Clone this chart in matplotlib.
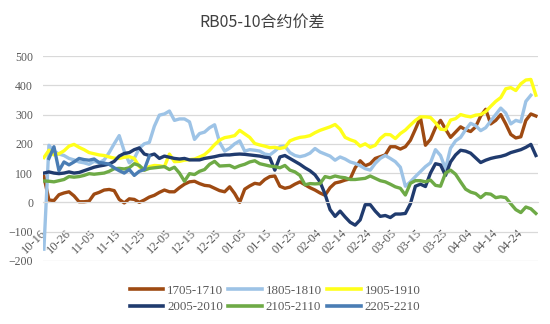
import numpy as np
import matplotlib.pyplot as plt

# category index of every plotted point (one point every two trading days)
idx = np.arange(0, 197, 2)

tick_labels = ['10-16', '10-26', '11-05', '11-15', '11-25', '12-05', '12-15',
               '12-25', '01-05', '01-15', '01-25', '02-04', '02-14', '02-24',
               '03-05', '03-15', '03-25', '04-04', '04-14', '04-24']

s1705 = [88, 8, 6, 26, 32, 36, 22, 2, 2, 4,
         28, 34, 42, 44, 40, 10, -2, 12, 10, 0,
         8, 18, 24, 34, 42, 36, 36, 50, 62, 70,
         72, 64, 58, 56, 48, 40, 36, 53, 30, 0,
         45, 56, 65, 62, 78, 88, 90, 55, 48, 52,
         62, 70, 60, 50, 42, 32, 24, 50, 66, 70,
         76, 80, 118, 142, 125, 132, 150, 156, 162, 190,
         190, 182, 190, 212, 250, 290, 195, 215, 255, 280,
         250, 222, 240, 258, 248, 242, 258, 295, 318, 268,
         280, 300, 268, 232, 220, 224, 280, 302, 295]

s1805 = [-160, 195, 175, 165, 160, 150, 145, 138, 135, 130,
         140, 135, 145, 170, 200, 228, 175, 135, 150, 185,
         200, 205, 260, 298, 302, 312, 280, 285, 285, 275,
         215, 235, 240, 255, 265, 205, 175, 185, 200, 210,
         175, 180, 178, 175, 165, 162, 175, 190, 192, 170,
         160, 156, 160, 168, 184, 172, 165, 158, 144, 155,
         148, 138, 133, 125, 115, 110, 133, 150, 160, 150,
         139, 120, 55, 70, 88, 105, 122, 135, 180, 160,
         115, 185, 210, 222, 248, 270, 262, 245, 255, 278,
         300, 322, 305, 268, 280, 275, 345, 366]

s1905 = [153, 178, 162, 166, 176, 192, 198, 188, 180, 170,
         166, 162, 160, 155, 151, 150, 154, 156, 150, 122,
         110, 122, 126, 125, 122, 165, 139, 140, 144, 146,
         148, 155, 163, 178, 197, 213, 221, 224, 228, 246,
         234, 222, 201, 196, 192, 187, 188, 184, 188, 210,
         217, 222, 224, 228, 238, 246, 252, 258, 266, 250,
         222, 214, 208, 192, 200, 188, 195, 218, 232, 231,
         218, 235, 247, 264, 280, 292, 292, 290, 272, 250,
         248, 281, 286, 300, 295, 292, 298, 300, 310, 328,
         345, 358, 388, 392, 382, 405, 418, 420, 366]

s2005 = [100, 104, 100, 98, 100, 104, 100, 102, 108, 114,
         120, 124, 127, 131, 140, 158, 167, 170, 180, 186,
         165, 160, 165, 150, 158, 154, 150, 148, 150, 145,
         145, 145, 150, 153, 156, 160, 162, 162, 164, 165,
         164, 162, 160, 158, 154, 152, 110, 155, 160, 150,
         140, 130, 118, 108, 94, 70, 28, -25, -48, -30,
         -50, -68, -78, -60, -8, -8, -30, -48, -45, -52,
         -40, -40, -38, -5, 55, 62, 54, 100, 132, 128,
         92, 138, 162, 178, 175, 168, 152, 136, 144, 150,
         154, 157, 162, 170, 175, 180, 188, 198, 160]

s2105 = [73, 72, 70, 74, 78, 88, 86, 88, 92, 98,
         96, 98, 100, 106, 115, 116, 114, 118, 132, 126,
         110, 116, 118, 120, 122, 112, 120, 100, 72, 98,
         95, 106, 112, 130, 140, 124, 125, 126, 118, 125,
         130, 138, 142, 132, 128, 124, 122, 118, 126, 110,
         104, 92, 60, 64, 63, 64, 88, 84, 90, 86,
         84, 78, 78, 80, 82, 90, 82, 74, 70, 62,
         53, 48, 25, 65, 74, 74, 70, 76, 58, 55,
         100, 110, 96, 70, 45, 35, 30, 16, 30, 28,
         16, 19, 16, -5, -25, -35, -16, -22, -38]

s2205 = [np.nan, 150, 190, 108, 138, 128, 138, 150, 146, 144,
         148, 136, 134, 130, 118, 108, 100, 112, 92, 106,
         112, 158]

names = ['1705-1710', '1805-1810', '1905-1910', '2005-2010', '2105-2110', '2205-2210']
colors = ['#9E4A12', '#9DC3E6', '#FFFF1A', '#203B6E', '#6EAA46', '#4A7DB4']
series = [s1705, s1805, s1905, s2005, s2105, s2205]

plt.rcParams['font.family'] = ['Liberation Serif', 'DejaVu Serif']
grey = '#595959'

fig = plt.figure(figsize=(5.5, 3.24), dpi=100)
ax = fig.add_axes([0.078, 0.194, 0.9, 0.634])

# category axis crosses at zero, so the date labels sit under the 0 line
for side in ['top', 'right', 'left']:
    ax.spines[side].set_visible(False)
ax.spines['bottom'].set_position(('data', 0))
ax.spines['bottom'].set_color('#D9D9D9')

lines = []
for name, col, vals in zip(names, colors, series):
    ln, = ax.plot(idx[:len(vals)], vals, color=col, lw=2.4, label=name,
                  solid_joinstyle='round')
    lines.append(ln)

ax.set_ylim(-201, 501)
ax.set_xlim(-0.4, 196.8)
ax.set_yticks(range(-200, 501, 100))
ax.set_xticks(range(0, 191, 10))
ax.set_xticklabels(tick_labels)
for lab in ax.get_xticklabels():
    lab.set_rotation(45)
    lab.set_ha('right')
    lab.set_va('center')
    lab.set_rotation_mode('anchor')
ax.grid(axis='y', color='#D9D9D9', lw=0.9)
ax.set_axisbelow(True)
ax.tick_params(axis='y', length=0, pad=7, labelsize=8.5, labelcolor=grey)
ax.tick_params(axis='x', length=0, pad=21, labelsize=9, labelcolor=grey)

fig.text(262 / 550, 1 - 22 / 324, 'RB05-10合约价差', ha='center', va='center',
         fontsize=11.5, color='#404040', family=['Noto Sans CJK SC', 'DejaVu Sans'])

# legend reads row by row, matplotlib fills columns first
order = [0, 3, 1, 4, 2, 5]
leg = fig.legend([lines[i] for i in order], [names[i] for i in order],
                 loc='center', bbox_to_anchor=(0.5, 1 - 299 / 324), ncol=3,
                 frameon=False, fontsize=9.3, handlelength=2.6,
                 handletextpad=0.3, columnspacing=0.4, labelspacing=0.35)
for t in leg.get_texts():
    t.set_color(grey)
for h in leg.legend_handles:
    h.set_linewidth(2.6)

fig.savefig('out.png', dpi=100)
